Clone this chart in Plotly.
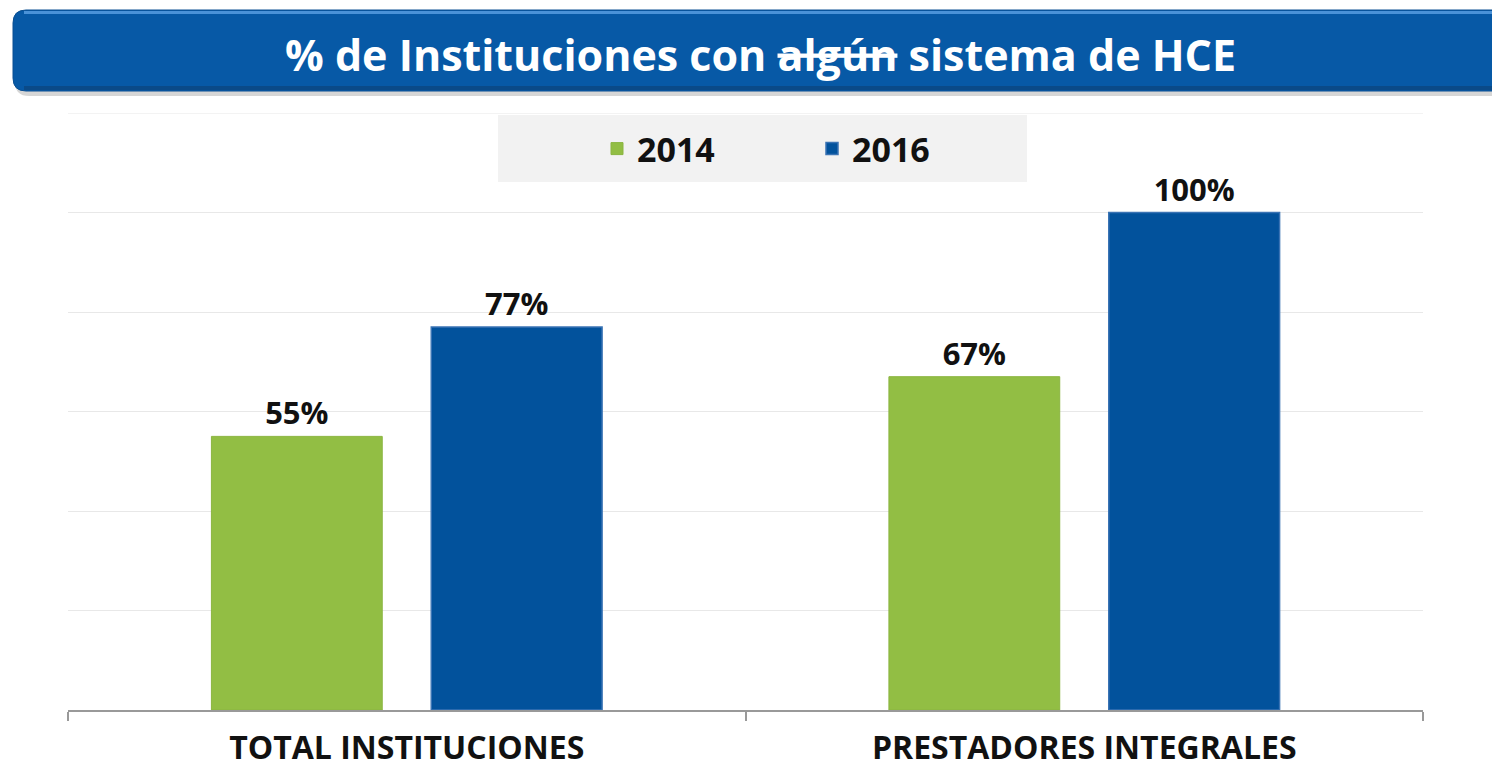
import plotly.graph_objects as go

categories = ["TOTAL INSTITUCIONES", "PRESTADORES INTEGRALES"]
years = ["2014", "2016"]
values_2014 = [55, 67]
values_2016 = [77, 100]
labels_2014 = ["55%", "67%"]
labels_2016 = ["77%", "100%"]
title_text = "% de Instituciones con <s>algún</s> sistema de HCE"

W, H = 1492, 772
L, R, T, B = 68, 69, 113, 62
PW, PH = W - L - R, H - T - B

def px(x):
    return (x - L) / PW

def py(y):
    return (H - B - y) / PH

FONT = "Open Sans"
GREEN = "#92BE44"
BLUE = "#02529C"
GRID = "#E8E8E8"

fig = go.Figure()
fig.add_trace(go.Bar(
    name=years[0], x=categories, y=values_2014, text=labels_2014,
    marker=dict(color=GREEN, line=dict(color="#8BB540", width=1)),
    textposition="outside", cliponaxis=False,
    textfont=dict(family=FONT, size=31, color="#111111", weight="bold"),
))
fig.add_trace(go.Bar(
    name=years[1], x=categories, y=values_2016, text=labels_2016,
    marker=dict(color=BLUE, line=dict(color="#3A73B4", width=1.5)),
    textposition="outside", cliponaxis=False,
    textfont=dict(family=FONT, size=31, color="#111111", weight="bold"),
))

def rounded(x0, y0, x1, y1, r):
    pts = [
        f"M{px(x0 + r)},{py(y0)}",
        f"L{px(x1 - r)},{py(y0)}",
        f"Q{px(x1)},{py(y0)} {px(x1)},{py(y0 + r)}",
        f"L{px(x1)},{py(y1 - r)}",
        f"Q{px(x1)},{py(y1)} {px(x1 - r)},{py(y1)}",
        f"L{px(x0 + r)},{py(y1)}",
        f"Q{px(x0)},{py(y1)} {px(x0)},{py(y1 - r)}",
        f"L{px(x0)},{py(y0 + r)}",
        f"Q{px(x0)},{py(y0)} {px(x0 + r)},{py(y0)}",
        "Z",
    ]
    return " ".join(pts)

shapes = [
    dict(type="path", xref="paper", yref="paper", path=rounded(15, 15, 1510, 96, 14),
         fillcolor="rgba(0,0,0,0.16)", line=dict(width=0), layer="above"),
    dict(type="path", xref="paper", yref="paper", path=rounded(13, 10, 1510, 91, 13),
         fillcolor="#0759A6", line=dict(color="#0A4F92", width=1), layer="above"),
    dict(type="rect", xref="paper", yref="paper", x0=px(24), x1=px(1510), y0=py(11), y1=py(14),
         fillcolor="#4A92D8", line=dict(width=0), layer="above"),
    dict(type="rect", xref="paper", yref="paper", x0=px(24), x1=px(1510), y0=py(86), y1=py(90),
         fillcolor="#0A4A88", line=dict(width=0), layer="above"),
    dict(type="line", xref="paper", yref="y", x0=0, x1=1, y0=120, y1=120,
         line=dict(color=GRID, width=1), layer="below"),
    dict(type="rect", xref="paper", yref="paper", x0=px(498), x1=px(1027), y0=py(115), y1=py(182),
         fillcolor="#F2F2F2", line=dict(width=0), layer="below"),
]

fig.update_layout(
    width=W, height=H,
    margin=dict(l=L, r=R, t=T, b=B, autoexpand=False),
    paper_bgcolor="white", plot_bgcolor="white",
    barmode="group", bargap=0.351, bargroupgap=0.223,
    showlegend=True,
    legend=dict(
        orientation="h", x=px(597), xanchor="left", y=py(149), yanchor="middle",
        bgcolor="rgba(0,0,0,0)", font=dict(family=FONT, size=34, color="#111111", weight="bold"),
        entrywidth=170, entrywidthmode="pixels", traceorder="normal",
    ),
    xaxis=dict(
        showline=True, linecolor="#999999", linewidth=1.5,
        ticks="outside", tickson="boundaries", ticklen=9, tickcolor="#999999", tickwidth=1.5,
        tickfont=dict(family=FONT, size=32, color="#111111", weight="bold"),
        ticklabelstandoff=9, automargin=False,
        showgrid=False,
    ),
    yaxis=dict(
        range=[0, 120], dtick=20, showticklabels=False, showline=False,
        gridcolor=GRID, gridwidth=1, zeroline=False, ticks="", automargin=False,
    ),
    shapes=shapes,
    annotations=[dict(
        text=title_text, xref="paper", yref="paper", x=px(760), y=py(54),
        xanchor="center", yanchor="middle", showarrow=False,
        font=dict(family=FONT, size=43, color="white", weight="bold"),
    )],
)

fig.write_html("out.html", config={"displayModeBar": False},
               post_script="document.body.style.margin='0';")
